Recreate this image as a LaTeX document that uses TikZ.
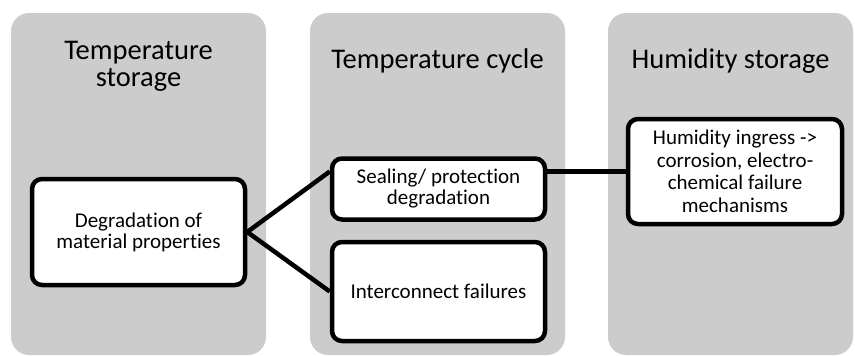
\documentclass[tikz,border=0pt]{standalone}
\usepackage{fontspec}
\setmainfont{Carlito}[Ligatures={NoCommon}, RawFeature={-liga;-clig;-dlig}]
\definecolor{panelgrey}{RGB}{204,204,204}
\tikzset{
  panelbox/.style={fill=panelgrey, draw=none, rounded corners=18pt, inner sep=0pt},
  paneltitle/.style={align=center, inner sep=0pt, font=\fontsize{28.5}{27.5}\selectfont},
  itembox/.style={draw=black, fill=white, line width=4.5pt, rounded corners=10pt,
    inner sep=0pt, align=center, font=\fontsize{21}{21}\selectfont},
  conn/.style={draw=black, line width=4.5pt}
}
\begin{document}
\begin{tikzpicture}[x=1pt,y=-1pt]
\useasboundingbox (0,0) rectangle (855,356);
% panels
\node[panelbox, minimum width=255pt, minimum height=342pt] (p1) at (138.5,184) {};
\node[panelbox, minimum width=255pt, minimum height=342pt] (p2) at (437.5,184) {};
\node[panelbox, minimum width=245pt, minimum height=342pt] (p3) at (730.5,184) {};
% titles
\node[paneltitle] (t1) at (138.5,66.5) {Temperature\\storage};
\node[paneltitle, anchor=base] (t2) at (437.5,68.5) {Temperature cycle};
\node[paneltitle, anchor=base] (t3) at (730.5,68.5) {Humidity storage};
% boxes
\node[itembox, minimum width=213pt, minimum height=106pt] (A) at (138.5,232)
  {Degradation of\\material properties};
\node[itembox, minimum width=213pt, minimum height=61pt] (B) at (438.5,189)
  {Sealing/ protection\\degradation};
\node[itembox, minimum width=213pt, minimum height=99pt] (C) at (438.5,291.5)
  {Interconnect failures};
\node[itembox, minimum width=214pt, minimum height=105pt,
  font=\fontsize{21}{22.5}\selectfont] (D) at (735,171.5)
  {Humidity ingress ->\\corrosion, electro-\\chemical failure\\mechanisms};
% connectors
\coordinate (bin) at (B.west |- D.center);
\coordinate (bout) at (B.east |- D.center);
\draw[conn] (A.east) -- (bin);
\draw[conn] (A.east) -- (C.west);
\draw[conn] (bout) -- (D.west);
\end{tikzpicture}
\end{document}
